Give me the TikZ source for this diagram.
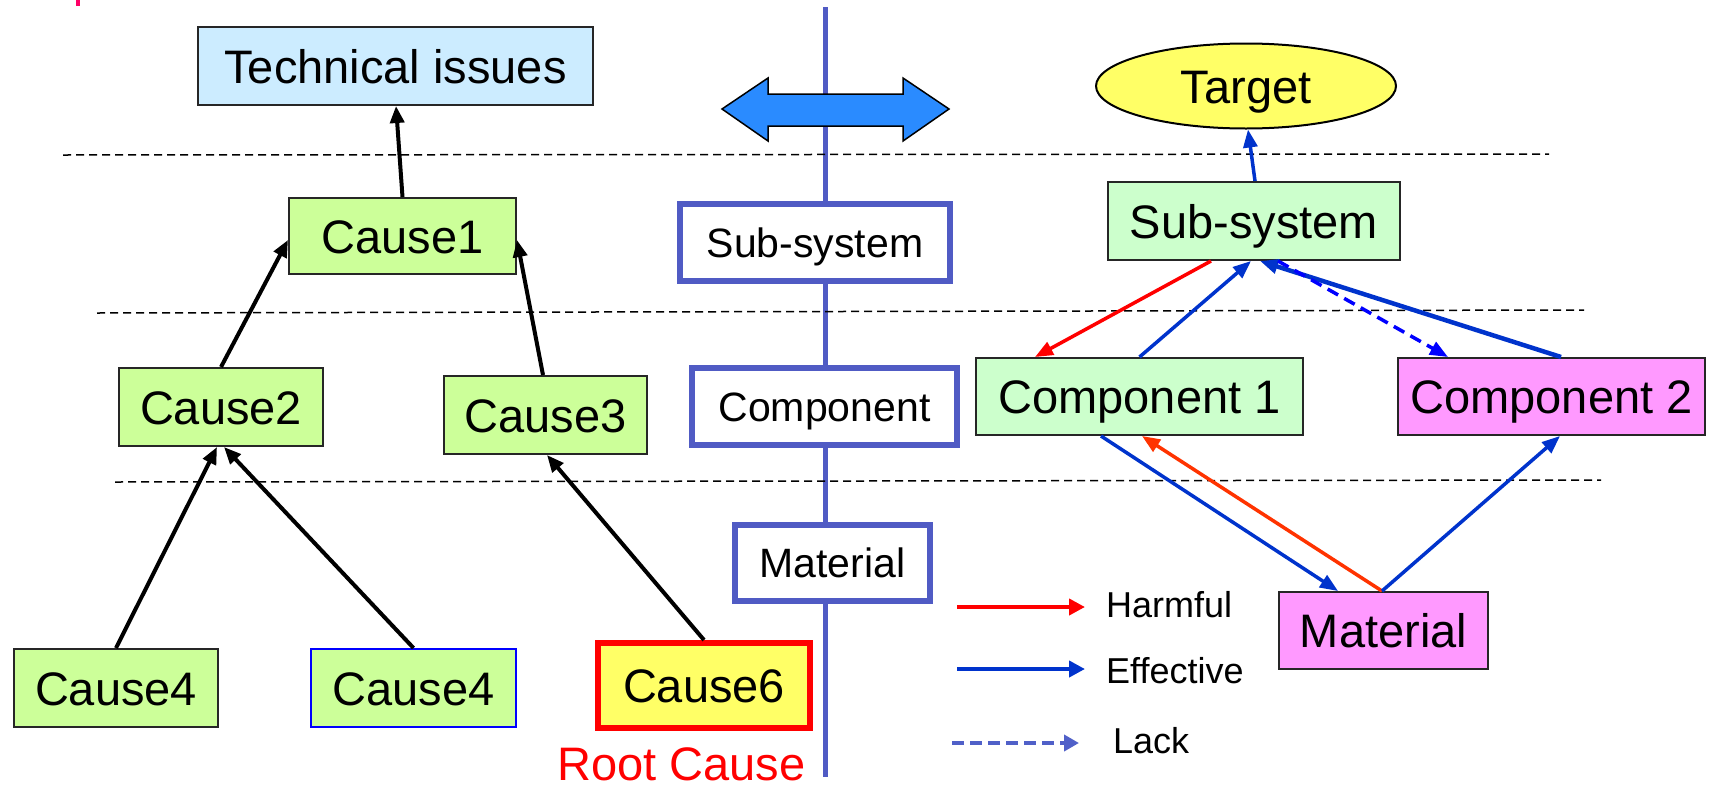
\documentclass[tikz,border=0pt]{standalone}
\usepackage{fontspec}
\setmainfont{Liberation Sans}
\usetikzlibrary{arrows.meta, positioning, shapes.geometric}
\usepackage{xcolor}
\definecolor{causegreen}{HTML}{CCFF99}
\definecolor{issueblue}{HTML}{CCECFF}
\definecolor{partgreen}{HTML}{CCFFCC}
\definecolor{partpink}{HTML}{FF99FF}
\definecolor{rootyellow}{HTML}{FFFF66}
\definecolor{levelblue}{RGB}{80,91,196}
\definecolor{effblue}{HTML}{0033CC}
\definecolor{harmred}{HTML}{FF0000}
\definecolor{harmorange}{HTML}{FF3300}
\definecolor{lackblue}{RGB}{80,96,200}
\definecolor{swapblue}{RGB}{42,139,255}
\definecolor{markpink}{HTML}{FF0066}
\newcommand{\boxfont}{\fontsize{47}{50}\selectfont}
\newcommand{\levelfont}{\fontsize{41}{44}\selectfont}
\newcommand{\keyfont}{\fontsize{36}{40}\selectfont}
\tikzset{
    box/.style={draw=black!85, line width=2pt, inner sep=0pt, font=\boxfont, text height=34pt, text depth=0pt},
    causebox/.style={box, fill=causegreen},
    partbox/.style={box, fill=partgreen},
    pinkbox/.style={box, fill=partpink},
    levelbox/.style={draw=levelblue, line width=6pt, fill=white, inner sep=0pt, font=\levelfont, text height=29.5pt, text depth=0pt},
    sepline/.style={black, line width=1.5pt, dash pattern=on 8pt off 5pt},
    causearrow/.style={black, line width=4pt, -{Triangle[length=17pt,width=14pt]}},
    effective/.style={effblue, line width=3.5pt, -{Triangle[length=18pt,width=14pt]}},
    harmful/.style={harmred, line width=3.5pt, -{Triangle[length=18pt,width=14pt]}},
    lack/.style={blue, line width=3.5pt, dash pattern=on 12pt off 7pt, -{Triangle[length=18pt,width=14pt]}},
    keytext/.style={font=\keyfont, anchor=base west, inner sep=0pt}
}
\begin{document}
\begin{tikzpicture}[x=1pt, y=-1pt]
        \useasboundingbox (0,0) rectangle (1720,790);
        \fill[markpink] (76,0) rectangle (80,6);
        \coordinate (axtop) at (825,7);
        \coordinate (axbot) at (825,777);
        \draw[levelblue, line width=5pt] (axtop) -- (axbot);
        \draw[sepline] (63,155) -- (1549,154);
        \draw[sepline] (97,313) -- (1584,310);
        \draw[sepline] (115,482) -- (1601,480);
        \draw[fill=swapblue, line width=1.5pt, line join=miter] (722,109) -- (768,78) -- (768,94) -- (903,94) -- (903,78) -- (949,109)
            -- (903,141) -- (903,126) -- (768,126) -- (768,141) -- cycle;
        \node[levelbox, minimum width=270pt, minimum height=77pt] (sublvl) at (815,242.5) {Sub-system};
        \node[levelbox, minimum width=265pt, minimum height=77pt] (complvl) at (824.5,406.5) {Component};
        \node[levelbox, minimum width=195pt, minimum height=76pt] (matlvl) at (832.5,563) {Material};

        \node[box, fill=issueblue, minimum width=395pt, minimum height=78pt] (tech) at (395.5,66) {Technical issues};
        \node[causebox, minimum width=227pt, minimum height=76pt] (cause1) at (402.5,236) {Cause1};
        \node[causebox, minimum width=204pt, minimum height=78pt] (cause2) at (221,407) {Cause2};
        \node[causebox, minimum width=203pt, minimum height=78pt] (cause3) at (545.5,415) {Cause3};
        \node[causebox, minimum width=204pt, minimum height=78pt] (cause4a) at (116,688) {Cause4};
        \node[causebox, draw=blue, minimum width=205pt, minimum height=78pt, right=91pt of cause4a] (cause4b) {Cause4};
        \node[box, fill=rootyellow, draw=red, line width=6pt, minimum width=212pt, minimum height=85pt] (cause6) at (704,685.5) {Cause6};
        \node[red, font=\boxfont, anchor=base west, inner sep=0pt, text depth=0pt] (rootlbl) at (557,780) {Root Cause};
        \draw[causearrow] (cause1.north) -- ([xshift=0.5pt]tech.south);
        \draw[causearrow] (cause2.north) -- ([yshift=-4pt]cause1.west);
        \draw[causearrow] ([xshift=-2.5pt]cause3.north) -- ([yshift=-4pt]cause1.east);
        \draw[causearrow] (cause4a.north) -- ([xshift=-4pt]cause2.south);
        \draw[causearrow] (cause4b.north) -- ([xshift=3pt]cause2.south);
        \draw[causearrow] (cause6.north) -- ([xshift=1.5pt]cause3.south);

        \node[ellipse, draw=black, line width=2pt, fill=rootyellow, inner sep=0pt, minimum width=300pt, minimum height=85pt,
            font=\boxfont, text height=34pt, text depth=0pt] (target) at (1246,86) {Target};
        \node[partbox, minimum width=292pt, minimum height=78pt] (subsys) at (1254,221) {Sub-system};
        \node[partbox, minimum width=327pt, minimum height=77pt] (comp1) at (1139.5,396.5) {Component 1};
        \node[pinkbox, minimum width=307pt, minimum height=77pt, right=93pt of comp1] (comp2) {Component 2};
        \node[pinkbox, minimum width=209pt, minimum height=77pt] (mat) at (1383.5,630.5) {Material};
        \draw[effective] ([xshift=1pt]subsys.north) -- ([xshift=2pt]target.south);
        \draw[harmful] ([xshift=-43pt]subsys.south) -- ([xshift=-104.5pt]comp1.north);
        \draw[effective] (comp1.north) -- ([xshift=-3pt]subsys.south);
        \draw[effective, line width=4.5pt] ([xshift=9.5pt]comp2.north) -- ([xshift=6pt]subsys.south);
        \draw[lack] ([xshift=24pt]subsys.south) -- ([xshift=-103.5pt]comp2.north);
        \draw[effective] ([xshift=-38.5pt]comp1.south) -- ([xshift=-45.5pt]mat.north);
        \draw[harmful, harmorange] ([xshift=-1.5pt]mat.north) -- ([xshift=2.5pt]comp1.south);
        \draw[effective] ([xshift=-1.5pt]mat.north) -- ([xshift=8.5pt]comp2.south);

        \coordinate (harmA) at (957,607);
        \coordinate (harmB) at (1085,607);
        \coordinate (effA) at (957,669);
        \coordinate (effB) at (1085,669);
        \coordinate (lackA) at (952,743);
        \coordinate (lackB) at (1079,743);
        \draw[harmred, line width=4pt, -{Triangle[length=16pt,width=16pt]}] (harmA) -- (harmB);
        \draw[effblue, line width=4pt, -{Triangle[length=16pt,width=16pt]}] (effA) -- (effB);
        \draw[lackblue, line width=4pt, dash pattern=on 12pt off 6pt, -{Triangle[length=15pt,width=16pt]}] (lackA) -- (lackB);
        \node[keytext] (harmlbl) at (1106,617) {Harmful};
        \node[keytext] (efflbl) at (1106,683) {Effective};
        \node[keytext] (lacklbl) at (1113,753) {Lack};
\end{tikzpicture}
\end{document}
